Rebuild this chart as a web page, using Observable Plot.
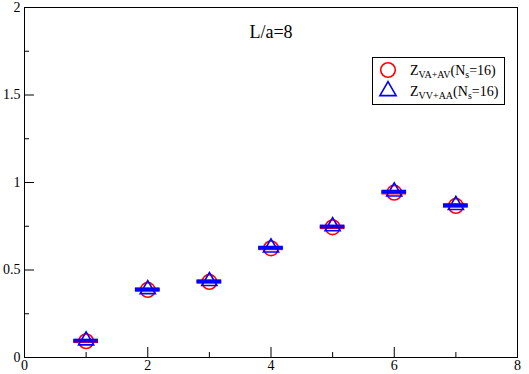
<!DOCTYPE html>
<html>
<head>
<meta charset="utf-8">
<script src="https://cdn.jsdelivr.net/npm/d3@7"></script>
<script src="https://cdn.jsdelivr.net/npm/@observablehq/plot@0.6"></script>
<style>
  html, body { margin: 0; padding: 0; background: #fff; }
  #chart { position: relative; width: 529px; height: 374px; }
  #chart svg text { font-family: 'Liberation Serif', 'Times New Roman', serif !important; font-variant: normal !important; }
</style>
</head>
<body>
<div id="chart"></div>
<script>
// ---- data ----
const xs = [1, 2, 3, 4, 5, 6, 7];
const zVAAV = [0.093, 0.386, 0.432, 0.624, 0.744, 0.942, 0.866];
const zVVAA = [0.097, 0.390, 0.436, 0.628, 0.749, 0.948, 0.871];
const errVAAV = [0.005, 0.005, 0.005, 0.005, 0.005, 0.005, 0.005];
const errVVAA = [0.005, 0.005, 0.005, 0.005, 0.005, 0.005, 0.005];
const xMajor = [0, 2, 4, 6, 8];
const xMinor = [1, 3, 5, 7];
const yMajor = [0, 0.5, 1, 1.5, 2];
const yMinor = [0.25, 0.75, 1.25, 1.75];
const titleText = "L/a=8";
const legendVA = { main: "Z", sub: "VA+AV", paren: "(N", sub2: "s", rest: "=16)" };
const legendVV = { main: "Z", sub: "VV+AA", paren: "(N", sub2: "s", rest: "=16)" };
const capHalf = 0.2;

const red = xs.map((x, i) => ({x, y: zVAAV[i], lo: zVAAV[i] - errVAAV[i], hi: zVAAV[i] + errVAAV[i]}));
const blue = xs.map((x, i) => ({x, y: zVVAA[i], lo: zVVAA[i] - errVVAA[i], hi: zVVAA[i] + errVVAA[i]}));

const caps = (data, color) => [
  Plot.ruleY(data, {y: "lo", x1: d => d.x - capHalf, x2: d => d.x + capHalf, stroke: color, strokeWidth: 2}),
  Plot.ruleY(data, {y: "hi", x1: d => d.x - capHalf, x2: d => d.x + capHalf, stroke: color, strokeWidth: 2}),
  Plot.ruleX(data, {x: "x", y1: "lo", y2: "hi", stroke: color, strokeWidth: 2})
];

const font = "'Liberation Serif', 'Times New Roman', serif";

const svg = Plot.plot({
  width: 529,
  height: 374,
  marginLeft: 24,
  marginRight: 12,
  marginTop: 7,
  marginBottom: 17,
  style: {fontFamily: font, fontSize: "13px", background: "white", color: "black"},
  x: {domain: [0, 8]},
  y: {domain: [0, 2]},
  marks: [
    Plot.axisX({ticks: xMajor, tickSize: -10, tickPadding: 13, tickFormat: d => String(d), label: null, fontSize: 14}),
    Plot.axisX({ticks: xMinor, tickSize: -5, tickFormat: () => "", label: null}),
    Plot.axisY({ticks: yMajor, tickSize: -10, tickPadding: 14, tickFormat: d => String(d), label: null, fontSize: 14}),
    Plot.axisY({ticks: yMinor, tickSize: -5, tickFormat: () => "", label: null}),
    ...caps(red, "#ff0000"),
    Plot.dot(red, {x: "x", y: "y", r: 7.3, stroke: "#ff0000", strokeWidth: 1.6, fill: "none"}),
    ...caps(blue, "#0000ff"),
    Plot.dot(blue, {x: "x", y: "y", symbol: "triangle", r: 5.6, stroke: "#0000ff", strokeWidth: 1.6, fill: "none"}),
    Plot.frame({stroke: "black", strokeWidth: 1}),
    Plot.text([titleText], {frameAnchor: "top", text: d => d, dy: 18, fontSize: 18, fill: "black"})
  ]
});

// ---- legend (inside plot, top-right) ----
const g = d3.select(svg).append("g").attr("fill", "black").attr("text-anchor", "start");
g.append("rect").attr("x", 372.5).attr("y", 57.5).attr("width", 132).attr("height", 47)
  .attr("fill", "white").attr("stroke", "black").attr("stroke-width", 1);
g.append("circle").attr("cx", 388).attr("cy", 70).attr("r", 7.3)
  .attr("fill", "none").attr("stroke", "#ff0000").attr("stroke-width", 1.6);
g.append("path").attr("transform", "translate(388,91)")
  .attr("d", d3.symbol(d3.symbolTriangle, Math.PI * 5.6 * 5.6 * 1.15)())
  .attr("fill", "none").attr("stroke", "#0000ff").attr("stroke-width", 1.6);
function entry(y, L) {
  const t = g.append("text").attr("x", 410).attr("y", y).attr("font-size", 14).attr("text-anchor", "start");
  t.append("tspan").text(L.main);
  t.append("tspan").attr("font-size", 10).attr("dy", 3).text(L.sub);
  t.append("tspan").attr("dy", -3).text(L.paren);
  t.append("tspan").attr("font-size", 10).attr("dy", 3).text(L.sub2);
  t.append("tspan").attr("dy", -3).text(L.rest);
}
entry(75, legendVA);
entry(96, legendVV);

d3.select(svg).selectAll("text").style("font-family", font).style("font-variant", "normal");

document.getElementById("chart").appendChild(svg);
</script>
</body>
</html>
